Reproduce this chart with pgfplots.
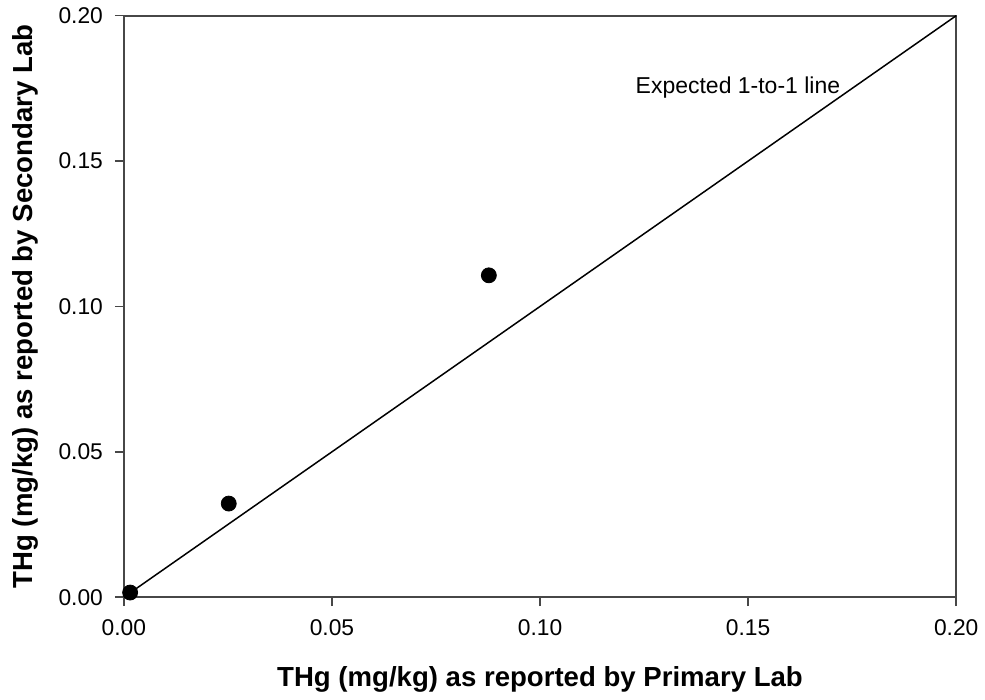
\documentclass[border=0pt]{standalone}
\usepackage{pgfplots}
\pgfplotsset{compat=1.18}
\usepackage{fontspec}
\setmainfont{Liberation Sans}
\begin{document}
\begin{tikzpicture}
\begin{axis}[
  at={(0,0)}, anchor=south west,
  scale only axis, width=416.5pt, height=291pt,
  xmin=0, xmax=0.2, ymin=0, ymax=0.2,
  xtick={0,0.05,...,0.2}, ytick={0,0.05,...,0.2},
  /pgf/number format/assume math mode=true,
  xticklabel style={/pgf/number format/fixed, /pgf/number format/fixed zerofill, /pgf/number format/precision=2},
  yticklabel style={/pgf/number format/fixed, /pgf/number format/fixed zerofill, /pgf/number format/precision=2},
  scaled ticks=false,
  tick align=outside, major tick length=4.5pt,
  xtick pos=bottom, ytick pos=left,
  axis line style={black!72, line width=0.85pt},
  tick style={black!72, line width=0.7pt},
  ticklabel style={font=\fontsize{11.4}{13}\selectfont},
  xticklabel style={yshift=-3pt},
  yticklabel style={xshift=-2.5pt},
  xlabel={THg (mg/kg) as reported by Primary Lab},
  ylabel={THg (mg/kg) as reported by Secondary Lab},
  label style={font=\bfseries\fontsize{13.8}{16}\selectfont},
  xlabel style={at={(axis description cs:0.5,-0.142)}, anchor=center},
  ylabel style={at={(axis description cs:-0.1177,0.5)}, anchor=center},
  clip=false,
]
\addplot[black, line width=0.75pt, no marks] coordinates {(0,0) (0.2,0.2)};
\addplot[only marks, mark=*, mark size=3.75pt, black] coordinates {
(0.0015,0.0016) (0.0252,0.0322) (0.0877,0.1107)
};
\node[anchor=base west, font=\fontsize{11.5}{13}\selectfont, inner sep=0pt] at (axis cs:0.1229,0.1732) {Expected 1-to-1 line};
\end{axis}
\path[use as bounding box] (-62pt,-51pt) rectangle (430.5pt,298.85pt);
\end{tikzpicture}
\end{document}
